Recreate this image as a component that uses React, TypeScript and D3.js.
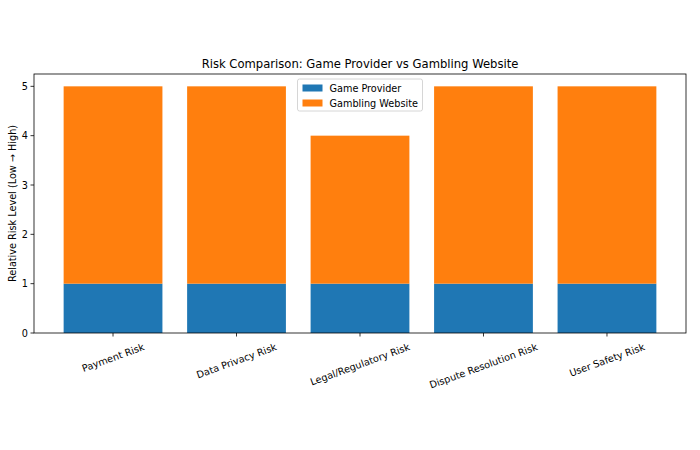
import { useRef, useEffect } from 'react';
import * as d3 from 'd3';

const categories = [
  'Payment Risk',
  'Data Privacy Risk',
  'Legal/Regulatory Risk',
  'Dispute Resolution Risk',
  'User Safety Risk',
];
const gameProvider = [1, 1, 1, 1, 1];
const gamblingWebsite = [4, 4, 3, 4, 4];
const yTicks = [0, 1, 2, 3, 4, 5];

const seriesNames = ['Game Provider', 'Gambling Website'];
const colors = ['#1f77b4', '#ff7f0e'];

const App = () => {
  const svgRef = useRef<SVGSVGElement>(null);
  const width = 700;
  const height = 450;
  const margin = { top: 74, right: 14, bottom: 117, left: 34 };
  const innerWidth = width - margin.left - margin.right;
  const innerHeight = height - margin.top - margin.bottom;

  useEffect(() => {
    if (!svgRef.current) return;
    const svg = d3.select(svgRef.current);
    svg.selectAll('*').remove();

    const font = 'DejaVu Sans, sans-serif';
    const fs = 9.7;
    const n = categories.length;

    // bars of width 0.8 at integer positions, matplotlib-style 5% margins
    const x = d3.scaleLinear().domain([-0.64, n - 1 + 0.64]).range([0, innerWidth]);
    const y = d3.scaleLinear().domain([0, 5.25]).range([innerHeight, 0]);
    const barW = x(0.8) - x(0);

    const g = svg
      .append('g')
      .attr('transform', `translate(${margin.left},${margin.top})`);

    // stacked bars
    categories.forEach((_, i) => {
      const base = gameProvider[i];
      const top = base + gamblingWebsite[i];
      g.append('rect')
        .attr('x', x(i) - barW / 2)
        .attr('y', y(base))
        .attr('width', barW)
        .attr('height', y(0) - y(base))
        .attr('fill', colors[0]);
      g.append('rect')
        .attr('x', x(i) - barW / 2)
        .attr('y', y(top))
        .attr('width', barW)
        .attr('height', y(base) - y(top))
        .attr('fill', colors[1]);
    });

    // y ticks
    yTicks.forEach((t) => {
      g.append('line')
        .attr('x1', -3.5)
        .attr('x2', 0)
        .attr('y1', y(t))
        .attr('y2', y(t))
        .attr('stroke', '#000')
        .attr('stroke-width', 0.8);
      g.append('text')
        .attr('x', -6)
        .attr('y', y(t))
        .attr('text-anchor', 'end')
        .attr('dominant-baseline', 'central')
        .attr('font-family', font)
        .attr('font-size', `${fs}px`)
        .attr('fill', '#000')
        .text(t);
    });

    // x ticks and rotated labels (top of rotated box sits under the tick)
    const rad = (20 * Math.PI) / 180;
    categories.forEach((c, i) => {
      g.append('line')
        .attr('x1', x(i))
        .attr('x2', x(i))
        .attr('y1', innerHeight)
        .attr('y2', innerHeight + 3.5)
        .attr('stroke', '#000')
        .attr('stroke-width', 0.8);
      const label = g
        .append('text')
        .attr('text-anchor', 'middle')
        .attr('dominant-baseline', 'central')
        .attr('font-family', font)
        .attr('font-size', `${fs}px`)
        .attr('fill', '#000')
        .text(c);
      const w = (label.node() as SVGTextElement).getComputedTextLength();
      const h = fs * 1.16;
      const boxH = w * Math.sin(rad) + h * Math.cos(rad);
      label.attr(
        'transform',
        `translate(${x(i)},${innerHeight + 8 + boxH / 2}) rotate(-20)`,
      );
    });

    // spines
    g.append('rect')
      .attr('x', 0)
      .attr('y', 0)
      .attr('width', innerWidth)
      .attr('height', innerHeight)
      .attr('fill', 'none')
      .attr('stroke', '#000')
      .attr('stroke-width', 0.8);

    // y label
    svg
      .append('text')
      .attr('transform', `translate(12,${margin.top + innerHeight / 2}) rotate(-90)`)
      .attr('text-anchor', 'middle')
      .attr('dominant-baseline', 'central')
      .attr('font-family', font)
      .attr('font-size', `${fs}px`)
      .attr('fill', '#000')
      .text('Relative Risk Level (Low → High)');

    // title
    svg
      .append('text')
      .attr('x', margin.left + innerWidth / 2)
      .attr('y', margin.top - 10)
      .attr('text-anchor', 'middle')
      .attr('dominant-baseline', 'central')
      .attr('font-family', font)
      .attr('font-size', '11.6px')
      .attr('fill', '#000')
      .text('Risk Comparison: Game Provider vs Gambling Website');

    // legend, upper center
    const legW = 125;
    const legH = 32;
    const leg = svg
      .append('g')
      .attr('transform', `translate(${margin.left + innerWidth / 2 - legW / 2},${margin.top + 5})`);
    leg
      .append('rect')
      .attr('width', legW)
      .attr('height', legH)
      .attr('rx', 2)
      .attr('fill', '#fff')
      .attr('fill-opacity', 0.8)
      .attr('stroke', '#ccc')
      .attr('stroke-width', 0.8);
    seriesNames.forEach((s, i) => {
      const yy = 9 + i * 15;
      leg
        .append('rect')
        .attr('x', 5)
        .attr('y', yy - 3.5)
        .attr('width', 20)
        .attr('height', 7)
        .attr('fill', colors[i]);
      leg
        .append('text')
        .attr('x', 32)
        .attr('y', yy)
        .attr('dominant-baseline', 'central')
        .attr('font-family', font)
        .attr('font-size', `${fs}px`)
        .attr('fill', '#000')
        .text(s);
    });
  }, []);

  return (
    <svg
      ref={svgRef}
      width={width}
      height={height}
      style={{ position: 'absolute', left: 0, top: 0, background: '#fff' }}
    />
  );
};

export default App;
